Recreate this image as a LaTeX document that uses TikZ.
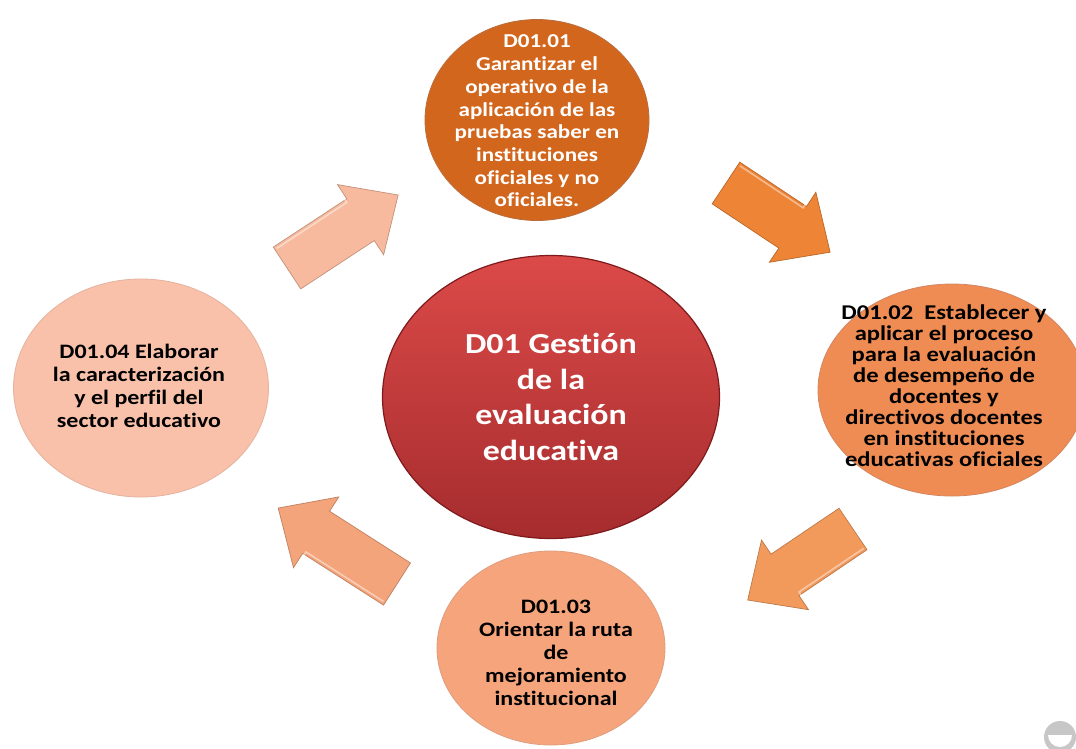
\documentclass[tikz,border=0pt]{standalone}
\usepackage{fontspec}
\setmainfont{Carlito}[FakeStretch=1.17, Ligatures=NoCommon]
\usetikzlibrary{shapes.geometric}
\definecolor{cTop}{HTML}{D2661C}
\definecolor{cTopD}{HTML}{A8490E}
\definecolor{cCenT}{HTML}{DB4A48}
\definecolor{cCenB}{HTML}{A62C2E}
\definecolor{cCenD}{HTML}{7E1A1C}
\definecolor{cRight}{HTML}{EF8C53}
\definecolor{cRightD}{HTML}{C9683A}
\definecolor{cBot}{HTML}{F5A47B}
\definecolor{cBotD}{HTML}{D7845E}
\definecolor{cLeft}{HTML}{F9C1A9}
\definecolor{cLeftD}{HTML}{DDA088}
\definecolor{aOne}{HTML}{F7BA9E}
\definecolor{aTwo}{HTML}{EE8436}
\definecolor{aThree}{HTML}{F29A5C}
\definecolor{aFour}{HTML}{F4A47B}
\pgfdeclareradialshading{shTop}{\pgfpoint{0bp}{0bp}}{color(0bp)=(cTop); color(42bp)=(cTop); color(50bp)=(cTopD)}
\pgfdeclareradialshading{shRight}{\pgfpoint{0bp}{0bp}}{color(0bp)=(cRight); color(42bp)=(cRight); color(50bp)=(cRightD)}
\pgfdeclareradialshading{shBot}{\pgfpoint{0bp}{0bp}}{color(0bp)=(cBot); color(42bp)=(cBot); color(50bp)=(cBotD)}
\pgfdeclareradialshading{shLeft}{\pgfpoint{0bp}{0bp}}{color(0bp)=(cLeft); color(42bp)=(cLeft); color(50bp)=(cLeftD)}
\tikzset{
  blob/.style={ellipse, inner sep=0pt, line width=0.8pt},
  lbl/.style={align=center, font=\bfseries, inner sep=0pt},
}
\newcommand\blockarrow[5]{%
  \begin{scope}[shift={(#1,#2)},rotate=#3]
    \fill[#5, draw=#5!78!black, line width=0.7pt]
      (0,-25) -- (#4-45,-25) -- (#4-45,-42) -- (#4,0) -- (#4-45,42) -- (#4-45,25) -- (0,25) -- cycle;
    \draw[white, opacity=0.45, line width=1.6pt]
      (2,-22) -- (#4-47,-22) -- (#4-47,-38);
  \end{scope}}
\begin{document}
\begin{tikzpicture}[x=1pt,y=-1pt]
\useasboundingbox (0,0) rectangle (1076,748);
\clip (0,0) rectangle (1076,748);
\fill[white] (0,0) rectangle (1076,748);

% ellipses
\node[blob, minimum width=224pt, minimum height=201pt, shading=shTop, draw=cTopD!80] (d1) at (537,120) {};
\node[blob, minimum width=268pt, minimum height=212pt, shading=shRight, draw=cRightD!80] (d2) at (952,390) {};
\node[blob, minimum width=228pt, minimum height=194pt, shading=shBot, draw=cBotD!80] (d3) at (551,648) {};
\node[blob, minimum width=255pt, minimum height=218pt, shading=shLeft, draw=cLeftD!80] (d4) at (141,388) {};
\node[blob, minimum width=337pt, minimum height=283pt, top color=cCenT, bottom color=cCenB, draw=cCenD, line width=1.2pt] (d0) at (551,397) {};

% arrows
\blockarrow{287}{268}{33.3}{133}{aOne}
\blockarrow{726}{183}{-33.6}{125}{aTwo}
\blockarrow{853}{529}{214}{127}{aThree}
\blockarrow{397}{584}{147.4}{141}{aFour}

% texts
\node[lbl, text=white, font=\bfseries\fontsize{29}{35.5}\selectfont] at (d0) {D01 Gestión\\de la\\evaluación\\educativa};
\node[lbl, text=white, font=\bfseries\fontsize{19.7}{22.7}\selectfont] at (537,121) {D01.01\\Garantizar el\\operativo de la\\aplicación de las\\pruebas saber en\\instituciones\\oficiales y no\\oficiales.};
\node[lbl, text=black, font=\bfseries\fontsize{21}{21}\selectfont] at (944,386) {D01.02\ \ Establecer y\\aplicar el proceso\\para la evaluación\\de desempeño de\\docentes y\\directivos docentes\\en instituciones\\educativas oficiales};
\node[lbl, text=black, font=\bfseries\fontsize{20.5}{23}\selectfont] at (556,653) {D01.03\\Orientar la ruta\\de\\mejoramiento\\institucional};
\node[lbl, text=black, font=\bfseries\fontsize{20.5}{23}\selectfont] at (139,386) {D01.04 Elaborar\\la caracterización\\y el perfil del\\sector educativo};

% corner icon
\fill[black!22] (1060,737) circle (16);
\fill[white] (1060,735) ++(-12,0) arc[start angle=180, end angle=0, radius=12] -- cycle;
\end{tikzpicture}
\end{document}
